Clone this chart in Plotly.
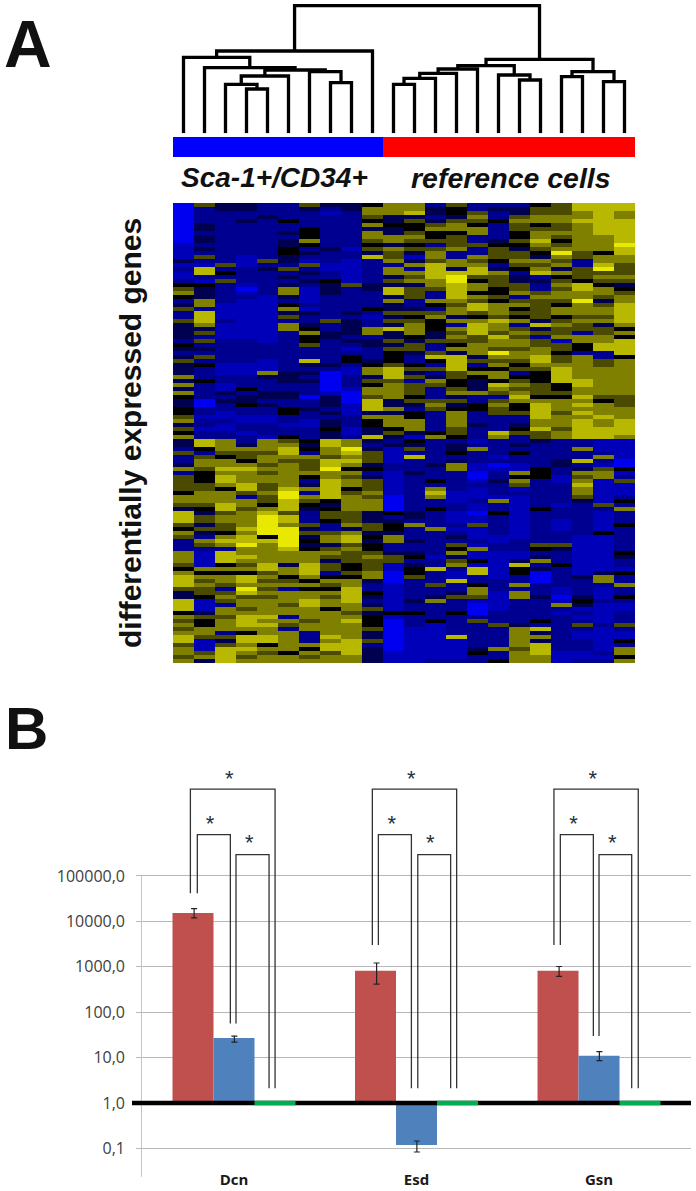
import plotly.graph_objects as go

W, H = 696, 1191

# Panel A: one string per array, top cluster then bottom cluster, 0 = blue, 4 = black, 8 = yellow
col01 = "0000000000 1111312112 4564235225 3333243235 3336363643 344563546 3325223625 5554665377 7546522266 6546777533 7774656567 756656"
col02 = "5222233233 2325217721 4333662777 6352523252 4222422220 022122122 7742566544 4556665435 5353265211 1164656554 1113544665 111563"
col03 = "3322222222 2222252425 2222211112 1111222222 1112211323 221121122 6665466767 7646667756 6554676277 7464665256 5266566625 357777"
col04 = "3322322222 2221112222 1012111111 1111222222 1112224233 422112212 2365546766 6775266566 6676778667 6564776875 6656777647 767656"
col05 = "2223222222 2222523222 2221111111 1111122221 1163222332 322112221 6665665656 6556554678 8888476666 6775656565 6666767667 746566"
col06 = "2222422323 3443325232 3663246352 6622222222 2233322332 244221224 5677656666 6678877757 7688888766 6366456266 6566265266 666466"
col07 = "5322224446 4232152323 2111121322 3464452227 3232322202 232211222 4342655564 2362654322 2535343466 6777646466 7766656622 264656"
col08 = "3212222222 2322211224 3332222225 2233222222 3200000133 323233433 7766577866 7777743455 4225663565 3552465465 6646666667 677566"
col09 = "3322222222 2122111111 5222222323 3332321244 2112221000 111222112 6687676465 6645666655 5636775655 5445466777 7665676666 777766"
col10 = "4665463665 4537222222 3322224212 2662332223 4663546657 773644337 3235553423 5556566633 3553434456 5556632243 2353444533 523333"
col11 = "6663343366 3655626635 3773633535 3733535444 5777566663 363666453 2311112211 1111000042 3443662235 5110001111 1114100000 000111"
col12 = "6673544565 4531362656 3555223545 6664355322 4535255545 324466631 4352722232 2222222233 2622232234 2344522222 3224222111 111111"
col13 = "2332356445 2566577776 6522642564 4433522574 2523652225 652222246 2222223222 4267622422 2262222221 2272225223 6222241111 111112"
col14 = "5443566455 5622663788 7777656636 2656546377 7755445635 346666554 2334236622 2221112211 1212325463 5621172235 2224222227 111112"
col15 = "2256546622 5226567754 6646577546 7775566635 2464333622 442223222 1262221100 1211121101 1511121611 4177224665 1000252222 223422"
col16 = "2322422223 4555423655 5445466657 6657665865 6466476525 655222276 2222120122 3222162242 2222112211 1111122211 1112225222 226224"
col17 = "2335655445 4355654233 5562564546 2565665665 4524565676 445223452 2324221164 6512111111 1111122211 3744226266 2222223666 665666"
col18 = "4556645667 6543656723 2256555553 7352556677 6544455546 777766755 3222222444 2222222422 2222225423 6230002223 2222242736 377766"
col19 = "5556655654 5686563645 6566546645 6556155455 6777744546 665666566 2222233221 1222221222 1112225322 2422222110 1621222222 222111"
col20 = "7766766666 6655225554 7766866656 5526644266 6666776676 767677777 2262272365 6766532222 2222111111 1111322223 4312125211 222112"
col21 = "7777777766 6646678565 4665356656 3556677225 5666666654 666766777 1112621566 1111115211 1114111111 1113662111 2111112111 111212"
col22 = "7766777777 8776655565 3456677777 6464777746 6666666655 566677776 1111100412 5111242622 2422222243 2214226224 2112225211 426646"
heat_cols = [col01, col02, col03, col04, col05, col06, col07, col08, col09, col10, col11,
             col12, col13, col14, col15, col16, col17, col18, col19, col20, col21, col22]

# dendrogram: arrays are 1-22, merge number n makes node 22 + n
merge_left = [4, 3, 24, 8, 7, 25, 2, 1, 30, 11, 32, 33, 34, 17, 16, 35, 19, 21, 39, 38, 31]
merge_right = [5, 23, 6, 9, 26, 27, 28, 29, 10, 12, 13, 14, 15, 18, 36, 37, 20, 22, 40, 41, 42]
merge_height = [44.3, 49, 57.3, 50.7, 61.7, 63.3, 65.7, 76, 82.3, 49, 55, 60, 64.3, 53.3, 58.3, 67.7,
                56.7, 51.7, 61.7, 74, 127.7]

class_of_array = [0] * 10 + [1] * 12

# Panel B
genes = ["<b>Dcn</b>", "<b>Esd</b>", "<b>Gsn</b>"]
gene_pos = [0, 1, 2]
red_vals = [15300, 815, 815]
red_hi = [19000, 1207, 1010]
red_lo = [11900, 415, 610]
blue_vals = [27, 0.118, 11]
blue_hi = [29.5, 0.145, 13.5]
blue_lo = [21.8, 0.083, 8.5]
green_vals = [1, 1, 1]
y_ticks = [0.1, 1, 10, 100, 1000, 10000, 100000]
y_tick_labels = ["0,1", "1,0", "10,0", "100,0", "1000,0", "10000,0", "100000,0"]

# significance brackets, x in gene units
outer_x0 = [-0.239, 0.758, 1.753]
outer_x1 = [0.225, 1.220, 2.215]
outer_foot0 = [41700, 3020, 3020]
outer_foot1 = [2.11, 2.11, 2.11]
left_x0 = [-0.201, 0.791, 1.788]
left_x1 = [-0.020, 0.972, 1.969]
left_foot0 = [41700, 3020, 3020]
left_foot1 = [55.8, 2.11, 29.9]
right_x0 = [0.011, 1.007, 2.0]
right_x1 = [0.192, 1.187, 2.179]
right_foot0 = [55.8, 2.11, 29.9]
right_foot1 = [2.11, 2.11, 2.11]
outer_top = 8130000
left_top = 813000
right_top = 294000
star_x = [-0.026, -0.132, 0.084, 0.972, 0.864, 1.076, 1.966, 1.861, 2.073]
star_y = [12800000, 1280000, 485000] * 3


def px_x(p):
    return p / W


def px_y(p):
    return 1 - p / H


fig = go.Figure()

# heatmap
z = [[int(c) for c in row] for row in zip(*[s.replace(" ", "") for s in heat_cols])]
fig.add_trace(go.Heatmap(
    z=z, x=list(range(1, 23)), y=list(range(len(z))), zmin=0, zmax=8, showscale=False,
    colorscale=[[0, "#0000f0"], [0.125, "#0000b8"], [0.25, "#000090"], [0.375, "#000050"], [0.5, "#000000"],
                [0.625, "#4a4a00"], [0.75, "#808000"], [0.875, "#b8b800"], [1, "#e8e800"]],
    xaxis="x", yaxis="y"))

# class bar
fig.add_trace(go.Heatmap(
    z=[class_of_array], x=list(range(1, 23)), y=[0], zmin=0, zmax=1, showscale=False,
    colorscale=[[0, "#0000ff"], [1, "#ff0000"]], xaxis="x", yaxis="y3"))

# dendrogram
node_x = {i: i for i in range(1, 23)}
node_h = {i: 0 for i in range(1, 23)}
den_x, den_y = [], []
for n, (a, b, h) in enumerate(zip(merge_left, merge_right, merge_height)):
    den_x += [node_x[a], node_x[a], node_x[b], node_x[b], None]
    den_y += [node_h[a], h, h, node_h[b], None]
    node_x[23 + n] = (node_x[a] + node_x[b]) / 2
    node_h[23 + n] = h
fig.add_trace(go.Scatter(x=den_x, y=den_y, mode="lines", xaxis="x", yaxis="y2",
                         line=dict(color="black", width=3.3)))

# bars
bar_w = 41 / 182.5
fig.add_trace(go.Bar(x=gene_pos, y=[v - 1 for v in red_vals], base=[1, 1, 1], width=bar_w, offset=-1.5 * bar_w,
                     marker=dict(color="#C0504D", line_width=0), xaxis="x2", yaxis="y4"))
fig.add_trace(go.Bar(x=gene_pos, y=[v - 1 for v in blue_vals], base=[1, 1, 1], width=bar_w, offset=-0.5 * bar_w,
                     marker=dict(color="#4F81BD", line_width=0), xaxis="x2", yaxis="y4"))

# error bars
for vals, hi, lo, shift in [(red_vals, red_hi, red_lo, -bar_w + 0.006), (blue_vals, blue_hi, blue_lo, 0.002)]:
    fig.add_trace(go.Scatter(
        x=[p + shift for p in gene_pos], y=vals, mode="markers", marker=dict(size=1, opacity=0),
        error_y=dict(type="data", symmetric=False,
                     array=[h - v for h, v in zip(hi, vals)],
                     arrayminus=[v - l for v, l in zip(vals, lo)],
                     color="#222222", thickness=1.2, width=3),
        xaxis="x2", yaxis="y4"))

# value axis line
fig.add_trace(go.Scatter(x=[-0.507, -0.507], y=[100000, 0.0226], mode="lines", xaxis="x2", yaxis="y4",
                         line=dict(color="#c4c4c4", width=1)))

# brackets
for i in range(3):
    for x0, x1, f0, f1, top in [(outer_x0[i], outer_x1[i], outer_foot0[i], outer_foot1[i], outer_top),
                                (left_x0[i], left_x1[i], left_foot0[i], left_foot1[i], left_top),
                                (right_x0[i], right_x1[i], right_foot0[i], right_foot1[i], right_top)]:
        fig.add_trace(go.Scatter(x=[x0, x0, x1, x1], y=[f0, top, top, f1], mode="lines", xaxis="x2", yaxis="y4",
                                 line=dict(color="#333333", width=1.3)))

fig.add_trace(go.Scatter(x=star_x, y=star_y, mode="text", text=["*"] * len(star_x), xaxis="x2", yaxis="y4",
                         textfont=dict(family="Liberation Sans", size=22, color="#22303c")))

# thick line at 1,0 with the green third series on it
shapes = [dict(type="line", xref="paper", yref="y4", x0=px_x(132), x1=px_x(691), y0=1, y1=1,
               line=dict(color="black", width=4.5), layer="above")]
for p, v in zip(gene_pos, green_vals):
    shapes.append(dict(type="line", xref="x2", yref="y4", x0=p + 0.5 * bar_w, x1=p + 1.5 * bar_w, y0=v, y1=v,
                       line=dict(color="#00B050", width=4.5), layer="above"))

annotations = [
    dict(text="<b>A</b>", x=px_x(2), y=px_y(44), xanchor="left", font=dict(size=66)),
    dict(text="<b>B</b>", x=px_x(3), y=px_y(728), xanchor="left", font=dict(size=60)),
    dict(text="<b><i>Sca-1+/CD34+</i></b>", x=px_x(274), y=px_y(178), font=dict(size=28)),
    dict(text="<b><i>reference cells</i></b>", x=px_x(510.5), y=px_y(178), font=dict(size=28.5)),
    dict(text="<b>differentially expressed genes</b>", x=px_x(130), y=px_y(433), textangle=-90, font=dict(size=30)),
]
for a in annotations:
    a.update(xref="paper", yref="paper", showarrow=False, yanchor="middle")
    a.setdefault("xanchor", "center")
    a["font"].update(family="Liberation Sans", color="#111111")

hidden = dict(visible=False, fixedrange=True)
fig.update_layout(
    width=W, height=H, autosize=False, margin=dict(l=0, r=0, t=0, b=0),
    paper_bgcolor="white", plot_bgcolor="white", showlegend=False, shapes=shapes, annotations=annotations,
    xaxis=dict(domain=[px_x(173), px_x(635)], range=[0.5, 22.5], **hidden),
    yaxis=dict(domain=[px_y(663), px_y(203)], range=[114.5, -0.5], anchor="x", **hidden),
    yaxis2=dict(domain=[px_y(133.3), px_y(0)], range=[0, 133.3], anchor="x", **hidden),
    yaxis3=dict(domain=[px_y(157), px_y(137)], range=[-0.5, 0.5], anchor="x", **hidden),
    xaxis2=dict(domain=[px_x(136), px_x(691)], range=[-0.537, 2.504], anchor="y4", tickmode="array",
                tickvals=gene_pos, ticktext=genes, showgrid=False, zeroline=False, ticks="",
                ticklabelstandoff=-8, tickfont=dict(family="Open Sans", size=15, color="#1a1a1a")),
    yaxis4=dict(domain=[px_y(1176.7), px_y(760)], type="log", range=[-1.625, 7.553], anchor="x2",
                tickmode="array", tickvals=y_ticks, ticktext=y_tick_labels, ticks="", ticklabelstandoff=10,
                showgrid=True, gridcolor="#b8b8b8", gridwidth=1, zeroline=False, showline=False,
                tickfont=dict(family="Open Sans", size=16, color="#404040")),
)

fig.write_html("out.html", config=dict(displayModeBar=False),
               post_script="document.body.style.margin='0';")
